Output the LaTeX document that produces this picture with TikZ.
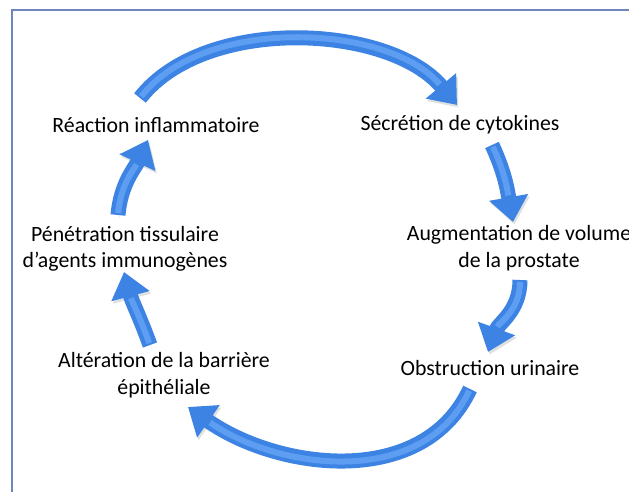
\documentclass[tikz,border=0pt]{standalone}
\usepackage{fontspec}
\setmainfont{Carlito}
\usetikzlibrary{arrows.meta}
\definecolor{cycblue}{HTML}{3C83E4}
\definecolor{cyclight}{HTML}{5E9EF2}
\definecolor{framecol}{HTML}{6F86BA}
\tikzset{
  stage/.style={align=center,inner sep=0pt,font=\fontsize{21.8}{26.5}\selectfont},
  cyclearrow/.style={draw=cycblue,line width=15pt,
    -{Triangle[width=38pt,length=25pt]},
    preaction={draw=black!12,-{Triangle[width=38pt,length=25pt]},
      transform canvas={shift={(1.5,-2.5)}}},
    postaction={draw=cyclight,line width=6pt,-,shorten >=27pt,shorten <=2pt}}
}
\def\cyc{\draw[cyclearrow]}

\begin{document}
\begin{tikzpicture}[x=1pt,y=1pt]
                \useasboundingbox (0,0) rectangle (629,491);
                \draw[framecol,line width=2.5pt] (12,-10) |- (650,481);
                \node[stage] (reac) at (156,366) {Réaction inflammatoire};
                \node[stage] (secr) at (460,366) {Sécrétion de cytokines};
                \node[stage] (augm) at (519,243) {Augmentation de volume\\de la prostate};
                \node[stage] (obst) at (490,123) {Obstruction urinaire};
                \node[stage] (alte) at (164,116) {Altération de la barrière\\épithéliale};
                \node[stage] (pene) at (125,242) {Pénétration tissulaire\\d’agents immunogènes};
                \cyc ([shift={(-16,27)}]reac.center) to[out=52,in=130,looseness=0.85] ([shift={(-3,20)}]secr.center);
                \cyc ([shift={(32,-20)}]secr.center) to[out=-65,in=100] ([shift={(-6,26)}]augm.center);
                \cyc ([shift={(1,-32)}]augm.center) to[out=-90,in=70] ([shift={(-2,16)}]obst.center);
                \cyc ([shift={(-20,-21)}]obst.center) to[out=-115,in=-35] ([shift={(24,-32)}]alte.center);
                \cyc ([shift={(-14,30)}]alte.center) to[out=110,in=-75] ([shift={(-1,-23)}]pene.center);
                \cyc ([shift={(-7,34)}]pene.center) to[out=85,in=-115] ([shift={(-8,-15)}]reac.center);
            \end{tikzpicture}
\end{document}
